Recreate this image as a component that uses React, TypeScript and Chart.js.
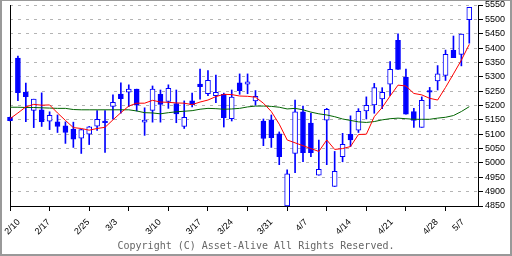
import React, { useEffect, useRef } from "react";
import { Chart, registerables } from "chart.js";

Chart.register(...registerables);

// ---- data ----
const dateLabels = ["2/10", "2/17", "2/25", "3/3", "3/10", "3/17", "3/24", "3/31", "4/7", "4/14", "4/21", "4/28", "5/7"];
// where each date label sits on the candle index axis
const labelAt = [1.1, 4.9, 9.9, 13.4, 18.9, 24.0, 28.0, 33.0, 37.4, 42.9, 48.2, 53.9, 57.2];
// weekly tick marks on the candle index axis
const weekTicks = [0, 5, 10, 15, 20, 25, 30, 35, 40, 45, 50, 55];

const opens = [
  5159, 5365, 5247, 5183, 5185, 5145, 5143, 5129, 5117, 5086,
  5100, 5128, 5146, 5197, 5240, 5246, 5257, 5142, 5183, 5239,
  5214, 5207, 5127, 5216, 5275, 5241, 5234, 5239, 5154, 5279,
  5274, 5216, 5146, 5150, 5101, 4850, 5033, 5178, 5139, 4957,
  5149, 4918, 5022, 5100, 5114, 5181, 5202, 5223, 5274, 5427,
  5299, 5179, 5124, 5252, 5286, 5305, 5392, 5378, 5499,
];
const highs = [
  5160, 5372, 5278, 5222, 5244, 5178, 5167, 5143, 5142, 5117,
  5127, 5182, 5182, 5237, 5279, 5272, 5257, 5192, 5268, 5254,
  5272, 5254, 5216, 5243, 5327, 5322, 5306, 5243, 5254, 5310,
  5310, 5252, 5153, 5167, 5108, 4976, 5219, 5198, 5173, 5080,
  5190, 5040, 5103, 5164, 5189, 5230, 5277, 5262, 5353, 5450,
  5327, 5190, 5230, 5263, 5339, 5393, 5442, 5449, 5542,
];
const lows = [
  5146, 5217, 5144, 5123, 5127, 5116, 5106, 5068, 5054, 5033,
  5064, 5113, 5037, 5152, 5173, 5196, 5181, 5096, 5142, 5142,
  5190, 5140, 5120, 5195, 5222, 5234, 5210, 5125, 5146, 5239,
  5241, 5201, 5060, 5054, 4994, 4850, 4966, 5004, 5022, 4957,
  4994, 4918, 5004, 5057, 5106, 5153, 5173, 5189, 5234, 5326,
  5170, 5124, 5124, 5189, 5254, 5287, 5367, 5338, 5417,
];
const closes = [
  5147, 5245, 5231, 5222, 5144, 5166, 5127, 5106, 5083, 5116,
  5126, 5152, 5140, 5211, 5224, 5257, 5201, 5149, 5257, 5204,
  5260, 5171, 5159, 5203, 5266, 5288, 5246, 5158, 5229, 5252,
  5282, 5232, 5085, 5088, 5022, 4962, 5178, 5036, 5036, 4978,
  5187, 4971, 5065, 5080, 5180, 5201, 5262, 5246, 5326, 5326,
  5170, 5148, 5218, 5246, 5310, 5378, 5367, 5449, 5542,
];
// short moving average (red)
const maShort = [
  5154, 5174, 5195, 5204, 5201, 5202, 5174, 5148, 5123, 5120,
  5114, 5120, 5124, 5150, 5175, 5198, 5208, 5208, 5218, 5212,
  5211, 5209, 5208, 5203, 5212, 5219, 5231, 5239, 5238, 5233,
  5232, 5229, 5208, 5179, 5135, 5080, 5070, 5060, 5050, 5040,
  5080, 5047, 5050, 5057, 5099, 5100, 5161, 5193, 5233, 5271,
  5268, 5242, 5237, 5225, 5219, 5263, 5310, 5358, 5413,
];
// long moving average (green)
const maLong = [
  5194, 5194, 5193, 5193, 5192, 5191, 5190, 5190, 5186, 5185,
  5185, 5185, 5185, 5185, 5185, 5185, 5181, 5175, 5174, 5171,
  5175, 5178, 5180, 5182, 5187, 5190, 5189, 5187, 5188, 5190,
  5195, 5198, 5198, 5197, 5194, 5188, 5190, 5185, 5177, 5171,
  5167, 5161, 5153, 5148, 5143, 5141, 5144, 5150, 5154, 5156,
  5154, 5152, 5152, 5152, 5156, 5159, 5165, 5179, 5196,
];
const yMin = 4850;
const yMax = 5550;
const yStep = 50;
const copyright = "Copyright (C) Asset-Alive All Rights Reserved.";

const BLUE = "#0000ff";

export default function App() {
  const ref = useRef<HTMLCanvasElement | null>(null);

  useEffect(() => {
    if (!ref.current) return;
    const xMax = 59.1;
    const wickData = lows.map((l, i) => ({ x: i, y: [l, highs[i]] }));
    const bodyData = opens.map((o, i) => ({ x: i, y: [o, closes[i]] }));
    const bodyFill = opens.map((o, i) => (closes[i] >= o ? "#ffffff" : BLUE));
    const tickFont = { family: "'Liberation Sans', Arial, sans-serif", size: 9 };

    const chart = new Chart(ref.current, {
      type: "bar",
      data: {
        datasets: [
          {
            type: "line",
            data: maShort.map((v, i) => ({ x: i, y: v })),
            borderColor: "#ff0000",
            borderWidth: 1,
            pointRadius: 0,
            tension: 0,
            order: 1,
            xAxisID: "x",
            yAxisID: "y",
          } as any,
          {
            type: "line",
            data: maLong.map((v, i) => ({ x: i, y: v })),
            borderColor: "#006400",
            borderWidth: 1,
            pointRadius: 0,
            tension: 0,
            order: 1,
            xAxisID: "x",
            yAxisID: "y",
          } as any,
          {
            type: "bar",
            data: bodyData,
            backgroundColor: bodyFill,
            borderColor: BLUE,
            borderWidth: 1,
            borderSkipped: false,
            barThickness: 5,
            grouped: false,
            order: 2,
            clip: false,
            xAxisID: "x",
            yAxisID: "y",
          } as any,
          {
            type: "bar",
            data: wickData,
            backgroundColor: BLUE,
            borderWidth: 0,
            barThickness: 1,
            grouped: false,
            order: 3,
            clip: false,
            xAxisID: "x",
            yAxisID: "y",
          } as any,
        ],
      },
      options: {
        responsive: false,
        animation: false,
        events: [],
        layout: { padding: { left: 8, top: 4, right: 0, bottom: 0 } },
        plugins: {
          legend: { display: false },
          tooltip: { enabled: false },
          title: { display: false },
        },
        scales: {
          x: {
            type: "linear",
            position: "bottom",
            min: 0,
            max: xMax,
            offset: false,
            weight: 0,
            afterBuildTicks: (a: any) => {
              a.ticks = weekTicks.map((v) => ({ value: v }));
            },
            ticks: { display: false },
            grid: {
              display: true,
              offset: false,
              drawOnChartArea: false,
              drawTicks: true,
              tickLength: 5,
              tickColor: "#000",
              color: "#000",
            },
            border: { display: true, color: "#000", width: 1 },
            afterFit: (a: any) => {
              a.height = 5;
              a.paddingLeft = 0;
              a.paddingRight = 0;
            },
          },
          xl: {
            type: "linear",
            position: "bottom",
            min: 0,
            max: xMax,
            offset: false,
            weight: 1,
            afterBuildTicks: (a: any) => {
              a.ticks = labelAt.map((v) => ({ value: v }));
            },
            ticks: {
              autoSkip: false,
              maxRotation: 45,
              minRotation: 45,
              padding: 6,
              font: tickFont,
              color: "#000",
              callback: (_v: any, i: number) => dateLabels[i],
            },
            grid: { display: false, drawTicks: false },
            border: { display: false },
            afterFit: (a: any) => {
              a.height = 43;
              a.paddingLeft = 0;
              a.paddingRight = 0;
            },
          },
          y: {
            type: "linear",
            position: "right",
            min: yMin,
            max: yMax,
            afterBuildTicks: (a: any) => {
              const t: any[] = [];
              for (let v = yMin; v <= yMax; v += yStep) t.push({ value: v });
              a.ticks = t;
            },
            ticks: {
              padding: 2,
              font: tickFont,
              color: "#000",
              callback: (v: any) => String(v),
            },
            grid: {
              color: "#b4b4b4",
              tickColor: "#000",
              tickLength: 5,
              lineWidth: 1,
              drawOnChartArea: true,
            },
            border: { display: true, color: "#000", width: 1, dash: [3, 5] },
            afterFit: (a: any) => {
              a.width = 32;
              a.paddingTop = 0;
              a.paddingBottom = 0;
            },
          },
          yl: {
            type: "linear",
            position: "left",
            display: true,
            ticks: { display: false },
            grid: { display: false, drawTicks: false },
            border: { display: true, color: "#000", width: 1 },
            afterFit: (a: any) => {
              a.width = 0;
              a.paddingTop = 0;
              a.paddingBottom = 0;
            },
          },
        },
      } as any,
    });
    return () => chart.destroy();
  }, []);

  return (
    <div
      style={{
        position: "absolute",
        left: 0,
        top: 0,
        width: 512,
        height: 256,
        boxSizing: "border-box",
        borderTop: "1px solid #999",
        borderLeft: "2px solid #999",
        borderRight: "2px solid #999",
        borderBottom: "2px solid #999",
        background: "#fff",
        overflow: "hidden",
      }}
    >
      <canvas ref={ref} width={508} height={253} style={{ display: "block", width: 508, height: 253 }} />
      <div
        style={{
          position: "absolute",
          left: 0,
          top: 239,
          width: 508,
          textAlign: "center",
          font: "10px 'DejaVu Sans Mono', monospace",
          lineHeight: "12px",
          color: "#666",
          whiteSpace: "nowrap",
        }}
      >
        {copyright}
      </div>
    </div>
  );
}
